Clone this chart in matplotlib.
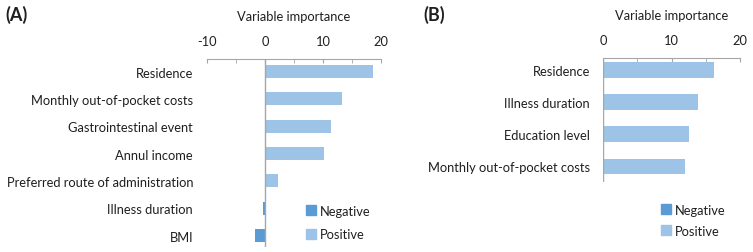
import numpy as np
import matplotlib.pyplot as plt
from matplotlib.patches import Patch

plt.rcParams['font.family'] = ['Lato', 'DejaVu Sans']
plt.rcParams['axes.unicode_minus'] = False

# panel A
labels_a = ['Residence', 'Monthly out-of-pocket costs', 'Gastrointestinal event',
            'Annul income', 'Preferred route of administration', 'Illness duration', 'BMI']
values_a = [18.6, 13.2, 11.4, 10.2, 2.2, -0.3, -1.8]

# panel B
labels_b = ['Residence', 'Illness duration', 'Education level', 'Monthly out-of-pocket costs']
values_b = [16.2, 13.9, 12.5, 12.0]

POS = '#9DC3E6'
NEG = '#5B9BD5'
TXT = '#1F1F1F'
GRID = '#A6A6A6'
FS = 9.3

W, H = 753, 253
fig = plt.figure(figsize=(W / 100, H / 100), dpi=100)


def px_axes(x0, y0, x1, y1):
    return fig.add_axes([x0 / W, 1 - y1 / H, (x1 - x0) / W, (y1 - y0) / H])


def panel(ax, labels, values, xlim, ylim, pad):
    y = np.arange(len(labels))
    colors = [POS if v >= 0 else NEG for v in values]
    ax.barh(y, values, height=0.48, color=colors, zorder=2)
    ax.axvline(0, color=GRID, lw=1.0, zorder=3)
    ax.set_xlim(*xlim)
    ax.set_ylim(*ylim)
    ax.set_yticks(y)
    ax.set_yticklabels(labels, fontsize=FS, color=TXT)
    ax.tick_params(axis='y', length=0, pad=pad)
    ax.xaxis.tick_top()
    ax.set_xticks(np.arange(xlim[0], xlim[1] + 1, 10))
    ax.set_xticks(np.arange(xlim[0], xlim[1] + 1, 5), minor=True)
    ax.tick_params(axis='x', which='both', direction='in', length=3, color=GRID,
                   labelsize=FS, labelcolor=TXT, pad=8.5)
    ax.xaxis.set_label_position('top')
    ax.set_xlabel('Variable importance', fontsize=FS, color=TXT, labelpad=11)
    for s in ['left', 'right', 'bottom']:
        ax.spines[s].set_visible(False)
    ax.spines['top'].set_color(GRID)
    ax.spines['top'].set_linewidth(0.8)


ax_a = px_axes(207, 60, 381, 248)
panel(ax_a, labels_a, values_a, (-10, 20), (6.42, -0.46), 10)

ax_b = px_axes(603, 59, 740, 183)
panel(ax_b, labels_b, values_b, (0, 20), (3.49, -0.37), 9.4)

handles = [Patch(color=NEG, label='Negative'), Patch(color=POS, label='Positive')]
fig.legend(handles=handles, loc='upper left', bbox_to_anchor=(294 / W, 1 - 194 / H),
           frameon=False, fontsize=FS, handlelength=0.8, handleheight=0.8,
           handletextpad=0.3, labelspacing=0.9, labelcolor=TXT)
fig.legend(handles=handles, loc='upper left', bbox_to_anchor=(649 / W, 1 - 193 / H),
           frameon=False, fontsize=FS, handlelength=0.8, handleheight=0.8,
           handletextpad=0.3, labelspacing=0.7, labelcolor=TXT)

fig.text(5 / W, 1 - 15 / H, '(A)', fontsize=13, fontweight='bold', color=TXT, va='center')
fig.text(423 / W, 1 - 15 / H, '(B)', fontsize=13, fontweight='bold', color=TXT, va='center')

fig.savefig('out.png', dpi=100)
